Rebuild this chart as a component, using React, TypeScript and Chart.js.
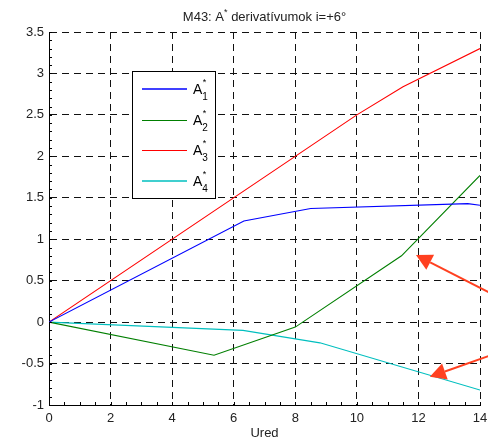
import React, { useEffect, useRef } from 'react';
import { Chart, registerables } from 'chart.js';

Chart.register(...registerables);

// ---- data ----
const A1_X = [0, 6.33, 8.5, 13.6, 14];
const A1_Y = [0, 1.22, 1.37, 1.43, 1.41];
const A2_X = [0, 5.36, 8.0, 11.45, 14];
const A2_Y = [0, -0.4, -0.06, 0.8, 1.77];
const A3_X = [0, 10, 11.5, 14];
const A3_Y = [0, 2.5, 2.84, 3.3];
const A4_X = [0, 6.3, 8.8, 14];
const A4_Y = [0, -0.1, -0.25, -0.82];

const SERIES_SUB = ['1', '2', '3', '4'];
const SERIES_COLORS = ['#0000ff', '#007f00', '#ff0000', '#00bfbf'];

const X_MIN = 0;
const X_MAX = 14;
const X_STEP = 2;
const X_MINOR = 0.5;
const Y_MIN = -1;
const Y_MAX = 3.5;
const Y_STEP = 0.5;
const Y_MINOR = 0.1;

// arrows: tail and tip in data units
const ARROW_TAIL_X = [14.65, 14.65];
const ARROW_TAIL_Y = [0.29, -0.36];
const ARROW_TIP_X = [11.92, 12.37];
const ARROW_TIP_Y = [0.81, -0.66];

const TITLE_MAIN = 'M43: A';
const TITLE_SUP = '*';
const TITLE_REST = ' derivatívumok i=+6°';
const X_TITLE = 'Ured';

const FONT = "'Liberation Sans', Arial, Helvetica, sans-serif";

function pts(xs: number[], ys: number[]) {
  return xs.map((x, i) => ({ x, y: ys[i] }));
}

function fmt(v: number) {
  const r = Math.round(v * 10) / 10;
  return String(r);
}

export default function App() {
  const ref = useRef<HTMLCanvasElement>(null);

  useEffect(() => {
    const canvas = ref.current!;
    const decor = {
      id: 'decor',
      beforeDraw(chart: any) {
        const ctx = chart.ctx;
        ctx.save();
        ctx.fillStyle = '#ffffff';
        ctx.fillRect(0, 0, chart.width, chart.height);
        ctx.restore();
      },
      afterDraw(chart: any) {
        const ctx = chart.ctx as CanvasRenderingContext2D;
        const xs = chart.scales.x;
        const ys = chart.scales.y;
        const area = chart.chartArea;

        // minor ticks (inside)
        ctx.save();
        ctx.strokeStyle = '#000';
        ctx.lineWidth = 1;
        ctx.beginPath();
        const ny = Math.round((Y_MAX - Y_MIN) / Y_MINOR);
        for (let i = 0; i <= ny; i++) {
          const v = Y_MIN + i * Y_MINOR;
          const py = Math.round(ys.getPixelForValue(v)) + 0.5;
          ctx.moveTo(area.left, py);
          ctx.lineTo(area.left + 3, py);
        }
        const nx = Math.round((X_MAX - X_MIN) / X_MINOR);
        for (let i = 0; i <= nx; i++) {
          const v = X_MIN + i * X_MINOR;
          const px = Math.round(xs.getPixelForValue(v)) + 0.5;
          ctx.moveTo(px, area.bottom);
          ctx.lineTo(px, area.bottom - 3);
        }
        ctx.stroke();
        ctx.restore();

        // title
        ctx.save();
        ctx.fillStyle = '#222';
        ctx.textBaseline = 'alphabetic';
        ctx.font = `13px ${FONT}`;
        const w1 = ctx.measureText(TITLE_MAIN).width;
        const w3 = ctx.measureText(TITLE_REST).width;
        ctx.font = `9px ${FONT}`;
        const w2 = ctx.measureText(TITLE_SUP).width;
        const total = w1 + w2 + w3;
        const cx = (area.left + area.right) / 2;
        let tx = cx - total / 2;
        const ty = 21;
        ctx.textAlign = 'left';
        ctx.font = `13px ${FONT}`;
        ctx.fillText(TITLE_MAIN, tx, ty);
        tx += w1;
        ctx.font = `9px ${FONT}`;
        ctx.fillText(TITLE_SUP, tx, ty - 6);
        tx += w2;
        ctx.font = `13px ${FONT}`;
        ctx.fillText(TITLE_REST, tx, ty);
        ctx.restore();

        // legend
        const bx = 132.5, by = 71.5, bw = 83, bh = 127;
        ctx.save();
        ctx.fillStyle = '#fff';
        ctx.fillRect(bx, by, bw, bh);
        ctx.strokeStyle = '#000';
        ctx.lineWidth = 1;
        ctx.strokeRect(bx, by, bw, bh);
        for (let i = 0; i < SERIES_COLORS.length; i++) {
          const ly = 89 + i * 30.5;
          ctx.strokeStyle = SERIES_COLORS[i];
          ctx.lineWidth = i === 0 || i === 3 ? 1.6 : 1;
          ctx.beginPath();
          const yy = i === 0 || i === 3 ? Math.round(ly) : Math.round(ly) + 0.5;
          ctx.moveTo(142, yy);
          ctx.lineTo(187, yy);
          ctx.stroke();
          ctx.fillStyle = '#000';
          ctx.textAlign = 'left';
          ctx.textBaseline = 'alphabetic';
          ctx.font = `14px ${FONT}`;
          ctx.fillText('A', 193, ly + 5);
          const aw = ctx.measureText('A').width;
          ctx.font = `9px ${FONT}`;
          ctx.fillText('*', 193 + aw + 0.5, ly - 4);
          ctx.font = `10px ${FONT}`;
          ctx.fillText(SERIES_SUB[i], 193 + aw, ly + 11);
        }
        ctx.restore();

        // arrows
        ctx.save();
        const col = 'rgb(255,64,32)';
        ctx.strokeStyle = col;
        ctx.fillStyle = col;
        ctx.lineWidth = 2;
        for (let i = 0; i < ARROW_TIP_X.length; i++) {
          const x1 = xs.getPixelForValue(ARROW_TAIL_X[i]);
          const y1 = ys.getPixelForValue(ARROW_TAIL_Y[i]);
          const x2 = xs.getPixelForValue(ARROW_TIP_X[i]);
          const y2 = ys.getPixelForValue(ARROW_TIP_Y[i]);
          const ang = Math.atan2(y2 - y1, x2 - x1);
          const L = 16, W = 8.5;
          const c = Math.cos(ang), s = Math.sin(ang);
          const hx = x2 - L * c, hy = y2 - L * s;
          ctx.beginPath();
          ctx.moveTo(x1, y1);
          ctx.lineTo(hx, hy);
          ctx.stroke();
          ctx.beginPath();
          ctx.moveTo(x2, y2);
          ctx.lineTo(hx + W * s, hy - W * c);
          ctx.lineTo(hx - W * s, hy + W * c);
          ctx.closePath();
          ctx.fill();
        }
        ctx.restore();
      },
    };

    const mk = (label: string, xsA: number[], ysA: number[], color: string) => ({
      label,
      data: pts(xsA, ysA),
      borderColor: color,
      backgroundColor: color,
      borderWidth: 1.1,
      pointRadius: 0,
      tension: 0,
      fill: false,
    });

    const chart = new Chart(canvas, {
      type: 'line',
      data: {
        datasets: [
          mk('A1', A1_X, A1_Y, SERIES_COLORS[0]),
          mk('A2', A2_X, A2_Y, SERIES_COLORS[1]),
          mk('A3', A3_X, A3_Y, SERIES_COLORS[2]),
          mk('A4', A4_X, A4_Y, SERIES_COLORS[3]),
        ],
      },
      options: {
        animation: false,
        responsive: false,
        devicePixelRatio: 1,
        layout: { padding: { top: 32, right: 8, left: 0, bottom: 0 } },
        plugins: {
          legend: { display: false },
          title: { display: false },
          tooltip: { enabled: false },
        },
        scales: {
          x: {
            type: 'linear',
            min: X_MIN,
            max: X_MAX,
            afterFit: (s: any) => {
              s.height = 37;
              s.paddingLeft = 0;
              s.paddingRight = 0;
            },
            ticks: {
              stepSize: X_STEP,
              color: '#222',
              font: { family: FONT, size: 13 },
              padding: 6,
              maxRotation: 0,
              callback: (v: any) => fmt(Number(v)),
            },
            grid: { color: '#111', lineWidth: 1, drawTicks: false },
            border: { display: true, color: '#000', width: 1, dash: [7, 5] },
            title: {
              display: true,
              text: X_TITLE,
              color: '#222',
              font: { family: FONT, size: 13 },
              padding: { top: 0, bottom: 1 },
            },
          },
          y: {
            type: 'linear',
            min: Y_MIN,
            max: Y_MAX,
            afterFit: (s: any) => {
              s.width = 49;
              s.paddingTop = 0;
              s.paddingBottom = 0;
            },
            ticks: {
              stepSize: Y_STEP,
              color: '#222',
              font: { family: FONT, size: 13 },
              padding: 5,
              callback: (v: any) => fmt(Number(v)),
            },
            grid: { color: '#111', lineWidth: 1, drawTicks: false },
            border: { display: true, color: '#000', width: 1, dash: [7, 5] },
          },
        },
      },
      plugins: [decor],
    } as any);

    return () => chart.destroy();
  }, []);

  return (
    <div style={{ position: 'fixed', left: 0, top: 0, width: 488, height: 442, background: '#fff' }}>
      <canvas ref={ref} width={488} height={442} style={{ display: 'block', width: 488, height: 442 }} />
    </div>
  );
}
